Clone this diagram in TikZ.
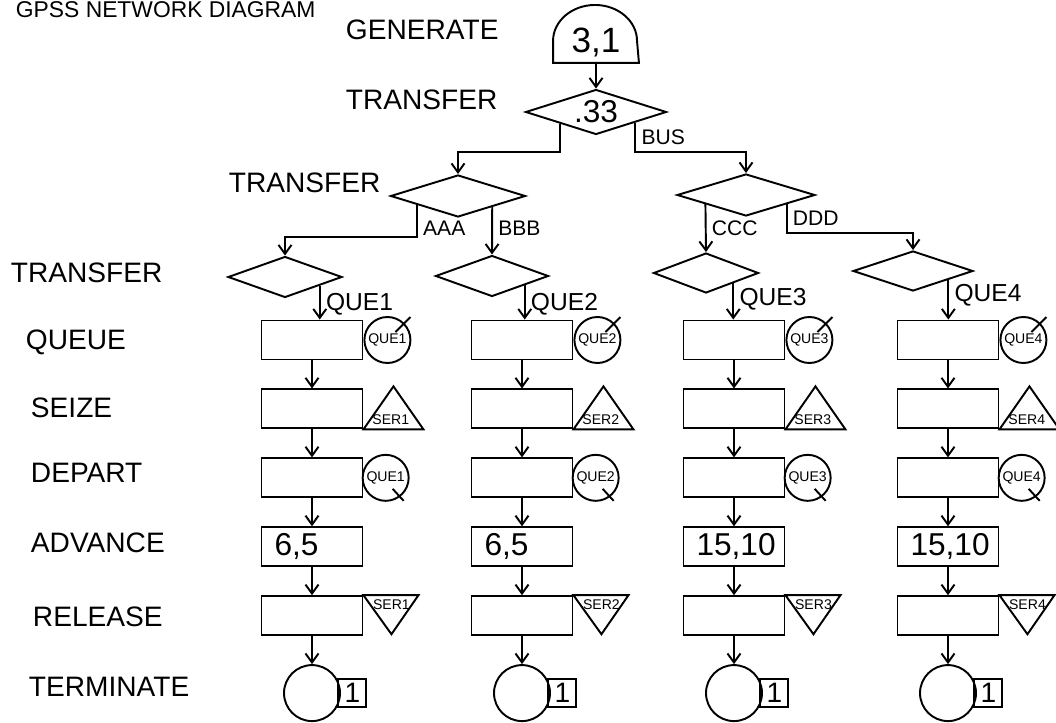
\documentclass[tikz,border=0pt]{standalone}
\usepackage{fontspec}
\setmainfont{Liberation Sans}
\usetikzlibrary{positioning,arrows.meta,shapes.geometric,calc}

\begin{document}
\begin{tikzpicture}[
  x=0.02cm, y=-0.02cm,
  line width=1.1pt,
  node distance = 0.56cm,
  blk/.style  = {draw, minimum width=2.02cm, minimum height=0.78cm, inner sep=0pt},
  adv/.style  = {blk, text width=1.5cm, align=left, inner xsep=0.26cm,
                 font=\fontsize{18}{20}\selectfont},
  dec/.style  = {draw, diamond, aspect=3, inner sep=0pt},
  arr/.style  = {-{Straight Barb[length=1.8mm,width=2.6mm]}},
  lbl/.style  = {font=\fontsize{12}{14}\selectfont, inner sep=3pt},
  que/.style  = {font=\fontsize{14}{16}\selectfont, inner sep=3pt},
  side/.style = {font=\fontsize{16}{18}\selectfont, anchor=west, inner sep=0pt},
  qc/.style   = {draw, circle, minimum size=0.92cm, inner sep=0pt,
                 font=\fontsize{8}{9}\selectfont},
  sym/.style  = {font=\fontsize{8}{9}\selectfont, inner sep=0pt},
  big/.style  = {font=\fontsize{20}{22}\selectfont},
  term/.style = {draw, circle, minimum size=1.12cm, inner sep=0pt},
  cnt/.style  = {draw, minimum size=0.56cm, inner sep=0pt,
                 font=\fontsize{16}{18}\selectfont}
]
  \useasboundingbox (0,0) rectangle (1056,723);

  % title
  \node[anchor=base west, inner sep=0pt, font=\fontsize{13}{15}\selectfont]
    (title) at (15,18) {GPSS NETWORK DIAGRAM};

  % block names
  \node[side] (lgen) at (345,30)  {GENERATE};
  \node[side] (ltr1) at (345,100) {TRANSFER};
  \node[side] (ltr2) at (228,183) {TRANSFER};
  \node[side] (ltr3) at (10,273)  {TRANSFER};
  \node[side] (lque) at (25,342)  {QUEUE};
  \node[side] (lsei) at (30,408)  {SEIZE};
  \node[side] (ldep) at (30,473)  {DEPART};
  \node[side] (ladv) at (30,543)  {ADVANCE};
  \node[side] (lrel) at (32,617)  {RELEASE};
  \node[side] (lter) at (28,687)  {TERMINATE};

  % generate and transfers
  \node[minimum width=1.68cm, minimum height=1.16cm, inner sep=0pt] (gen) at (596,33) {};
  \draw (gen.south west) -- ++(0,-22)
        arc[start angle=180, end angle=0, x radius=0.84cm, y radius=0.72cm]
        -- (gen.south east) -- cycle;
  \node[big, yshift=-0.18cm] (gval) at (gen) {3,1};

  \node[dec, minimum width=2.82cm, minimum height=0.9cm] (d1) at (596,112) {};
  \node[font=\fontsize{18}{20}\selectfont, inner sep=0pt] (dval) at (d1) {.33};
  \node[dec, minimum width=2.7cm,  minimum height=0.84cm] (d2) at (458,196) {};
  \node[dec, minimum width=2.76cm, minimum height=0.84cm] (d3) at (746,195) {};
  \node[dec, minimum width=2.28cm, minimum height=0.82cm] (d4) at (285,277) {};
  \node[dec, minimum width=2.26cm, minimum height=0.82cm] (d5) at (492,276) {};
  \node[dec, minimum width=2.1cm,  minimum height=0.8cm]  (d6) at (706,273) {};
  \node[dec, minimum width=2.4cm,  minimum height=0.8cm]  (d7) at (913,271) {};

  \coordinate (j1) at (0,152);
  \coordinate (j2) at (0,237);
  \coordinate (j3) at (0,233);

  \draw[arr] (gen.south) -- (d1.north);
  \draw[arr] ($(d1.west)!0.5!(d1.south)$) |- (j1 -| d2.north) -- (d2.north);
  \draw[arr] ($(d1.south)!0.55!(d1.east)$) |- node[lbl, pos=0.25, right] (bus) {BUS}
             (j1 -| d3.north) -- (d3.north);
  \draw[arr] ($(d2.west)!0.4!(d2.south)$) |- node[lbl, pos=0.36, right] (aaa) {AAA}
             (j2 -| d4.north) -- (d4.north);
  \draw[arr] ($(d2.south)!0.5!(d2.east)$) -- node[lbl, pos=0.45, right] (bbb) {BBB} (d5.north);
  \draw[arr] ($(d3.west)!0.42!(d3.south)$) -- node[lbl, pos=0.5, right] (ccc) {CCC} (d6.north);
  \draw[arr] ($(d3.south)!0.58!(d3.east)$) |- node[lbl, pos=0.25, right] (ddd) {DDD}
             (j3 -| d7.north) -- (d7.north);

  % column 1
  \node[blk] (q1) at (312,340) {};
  \node[blk, below=of q1]  (s1)  {};
  \node[blk, below=of s1]  (dp1) {};
  \node[adv, below=of dp1] (a1)  {6,5};
  \node[blk, below=of a1]  (r1)  {};
  \node[term, below=of r1] (t1)  {};
  \coordinate (e4) at ($(d4.south)!0.6!(d4.east)$);
  \draw[arr] (e4) -- node[que, pos=0.55, right] (lq1) {QUE1} (e4 |- q1.north);
  \draw[arr] (q1) -- (s1);
  \draw[arr] (s1) -- (dp1);
  \draw[arr] (dp1) -- (a1);
  \draw[arr] (a1) -- (r1);
  \draw[arr] (r1) -- (t1);
  \node[qc, right=0pt of q1] (qc1) {QUE1};
  \draw ($(qc1)+(8,-8)$) -- ++(15,-15);
  \draw (s1.south east) -- ++(30,-43) -- ++(30,43) -- cycle;
  \node[sym, anchor=south west] (ts1) at ($(s1.south east)+(8,-4)$) {SER1};
  \node[qc, right=-1pt of dp1] (dc1) {QUE1};
  \draw ($(dc1)+(7,11)$) -- ++(11,12);
  \draw (r1.north east) -- ++(55,0) -- ++(-27,39) -- cycle;
  \node[sym, anchor=north] (tr1) at ($(r1.north east)+(28,4)$) {SER1};
  \node[cnt, right=-2pt of t1] (c1) {1};

  % column 2
  \node[blk] (q2) at (522,340) {};
  \node[blk, below=of q2]  (s2)  {};
  \node[blk, below=of s2]  (dp2) {};
  \node[adv, below=of dp2] (a2)  {6,5};
  \node[blk, below=of a2]  (r2)  {};
  \node[term, below=of r2] (t2)  {};
  \coordinate (e5) at ($(d5.south)!0.57!(d5.east)$);
  \draw[arr] (e5) -- node[que, pos=0.55, right] (lq2) {QUE2} (e5 |- q2.north);
  \draw[arr] (q2) -- (s2);
  \draw[arr] (s2) -- (dp2);
  \draw[arr] (dp2) -- (a2);
  \draw[arr] (a2) -- (r2);
  \draw[arr] (r2) -- (t2);
  \node[qc, right=0pt of q2] (qc2) {QUE2};
  \draw ($(qc2)+(8,-8)$) -- ++(15,-15);
  \draw (s2.south east) -- ++(30,-43) -- ++(30,43) -- cycle;
  \node[sym, anchor=south west] (ts2) at ($(s2.south east)+(8,-4)$) {SER2};
  \node[qc, right=-1pt of dp2] (dc2) {QUE2};
  \draw ($(dc2)+(7,11)$) -- ++(11,12);
  \draw (r2.north east) -- ++(55,0) -- ++(-27,39) -- cycle;
  \node[sym, anchor=north] (tr2) at ($(r2.north east)+(28,4)$) {SER2};
  \node[cnt, right=-2pt of t2] (c2) {1};

  % column 3
  \node[blk] (q3) at (734,340) {};
  \node[blk, below=of q3]  (s3)  {};
  \node[blk, below=of s3]  (dp3) {};
  \node[adv, below=of dp3] (a3)  {15,10};
  \node[blk, below=of a3]  (r3)  {};
  \node[term, below=of r3] (t3)  {};
  \coordinate (e6) at ($(d6.south)!0.51!(d6.east)$);
  \draw[arr] (e6) -- node[que, pos=0.45, right] (lq3) {QUE3} (e6 |- q3.north);
  \draw[arr] (q3) -- (s3);
  \draw[arr] (s3) -- (dp3);
  \draw[arr] (dp3) -- (a3);
  \draw[arr] (a3) -- (r3);
  \draw[arr] (r3) -- (t3);
  \node[qc, right=0pt of q3] (qc3) {QUE3};
  \draw ($(qc3)+(8,-8)$) -- ++(15,-15);
  \draw (s3.south east) -- ++(30,-43) -- ++(30,43) -- cycle;
  \node[sym, anchor=south west] (ts3) at ($(s3.south east)+(8,-4)$) {SER3};
  \node[qc, right=-1pt of dp3] (dc3) {QUE3};
  \draw ($(dc3)+(7,11)$) -- ++(11,12);
  \draw (r3.north east) -- ++(55,0) -- ++(-27,39) -- cycle;
  \node[sym, anchor=north] (tr3) at ($(r3.north east)+(28,4)$) {SER3};
  \node[cnt, right=-2pt of t3] (c3) {1};

  % column 4
  \node[blk] (q4) at (948,340) {};
  \node[blk, below=of q4]  (s4)  {};
  \node[blk, below=of s4]  (dp4) {};
  \node[adv, below=of dp4] (a4)  {15,10};
  \node[blk, below=of a4]  (r4)  {};
  \node[term, below=of r4] (t4)  {};
  \coordinate (e7) at ($(d7.south)!0.58!(d7.east)$);
  \draw[arr] (e7) -- node[que, pos=0.4, right] (lq4) {QUE4} (e7 |- q4.north);
  \draw[arr] (q4) -- (s4);
  \draw[arr] (s4) -- (dp4);
  \draw[arr] (dp4) -- (a4);
  \draw[arr] (a4) -- (r4);
  \draw[arr] (r4) -- (t4);
  \node[qc, right=0pt of q4] (qc4) {QUE4};
  \draw ($(qc4)+(8,-8)$) -- ++(15,-15);
  \draw (s4.south east) -- ++(30,-43) -- ++(30,43) -- cycle;
  \node[sym, anchor=south west] (ts4) at ($(s4.south east)+(8,-4)$) {SER4};
  \node[qc, right=-1pt of dp4] (dc4) {QUE4};
  \draw ($(dc4)+(7,11)$) -- ++(11,12);
  \draw (r4.north east) -- ++(55,0) -- ++(-27,39) -- cycle;
  \node[sym, anchor=north] (tr4) at ($(r4.north east)+(28,4)$) {SER4};
  \node[cnt, right=-2pt of t4] (c4) {1};
\end{tikzpicture}
\end{document}
